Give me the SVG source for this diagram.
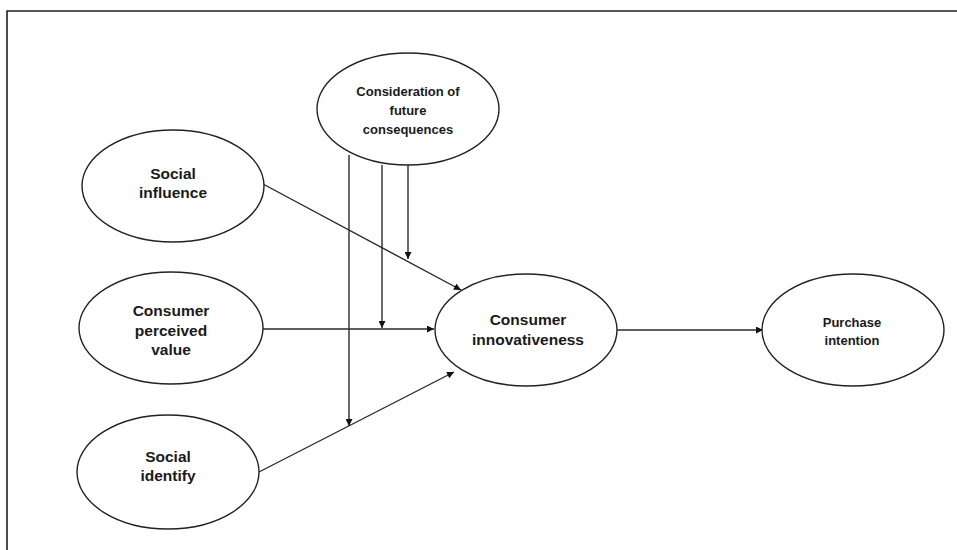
<svg xmlns="http://www.w3.org/2000/svg" width="957" height="550" viewBox="0 0 957 550">
<style>
.node ellipse{fill:#fff;stroke:#222;stroke-width:1.4}
.t{font-family:"Liberation Sans",Arial,sans-serif;font-weight:bold;font-size:15.5px;fill:#1a1a1a;text-anchor:middle}
.c{font-family:"Liberation Sans",Arial,sans-serif;font-weight:bold;font-size:13px;fill:#1a1a1a;text-anchor:middle}
.edges line{stroke:#2a2a2a;stroke-width:1.4;marker-end:url(#ah)}
</style>
<defs>
<marker id="ah" viewBox="0 0 10 10" refX="10" refY="5" markerWidth="8" markerHeight="7" markerUnits="userSpaceOnUse" orient="auto">
<path d="M0,0 L10,5 L0,10 z" fill="#111"/>
</marker>
</defs>
<rect width="957" height="550" fill="#fff"/>
<path d="M7,550 V11 H957" fill="none" stroke="#222" stroke-width="1.6"/>
<g class="edges">
<line x1="263" y1="184" x2="461" y2="290"/>
<line x1="263" y1="329" x2="434" y2="329"/>
<line x1="259" y1="472" x2="454" y2="372"/>
<line x1="617" y1="330" x2="763" y2="330"/>
<line x1="349" y1="155" x2="349" y2="426"/>
<line x1="382" y1="165" x2="382" y2="328"/>
<line x1="408" y1="165" x2="408" y2="259"/>
</g>
<g id="cfc" class="node"><ellipse cx="408" cy="109" rx="91" ry="56"/>
<text class="c" x="408" y="96">Consideration of</text><text class="c" x="408" y="115">future</text><text class="c" x="408" y="134">consequences</text></g>
<g id="si" class="node"><ellipse cx="173" cy="186" rx="91" ry="56"/>
<text class="t" x="173" y="179">Social</text><text class="t" x="173" y="198">influence</text></g>
<g id="cpv" class="node"><ellipse cx="171" cy="328" rx="92" ry="56"/>
<text class="t" x="171" y="316">Consumer</text><text class="t" x="171" y="336">perceived</text><text class="t" x="171" y="355">value</text></g>
<g id="sid" class="node"><ellipse cx="168" cy="472" rx="91" ry="57"/>
<text class="t" x="168" y="462">Social</text><text class="t" x="168" y="481">identify</text></g>
<g id="ci" class="node"><ellipse cx="526" cy="330" rx="91" ry="56"/>
<text class="t" x="528" y="325">Consumer</text><text class="t" x="528" y="345">innovativeness</text></g>
<g id="pi" class="node"><ellipse cx="853" cy="330" rx="91" ry="56"/>
<text class="c" x="852" y="327">Purchase</text><text class="c" x="852" y="345">intention</text></g>
</svg>
